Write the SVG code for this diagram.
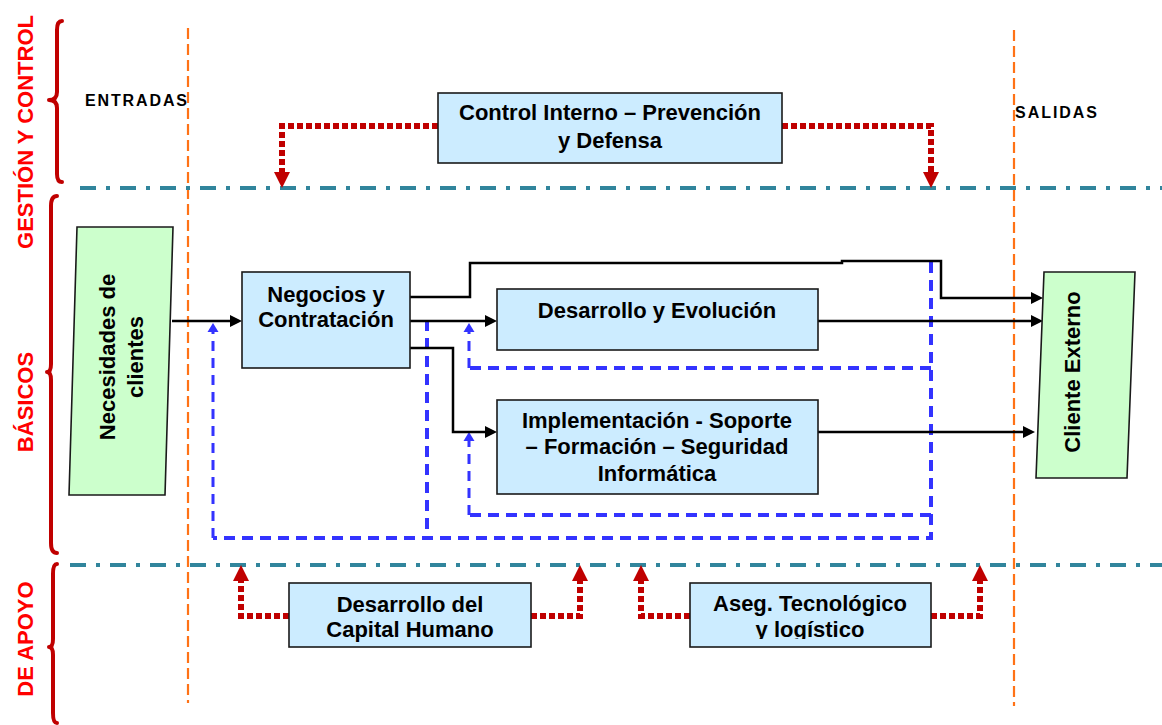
<svg xmlns="http://www.w3.org/2000/svg" width="1162" height="725" viewBox="0 0 1162 725">
<style>
.box{fill:#CCECFF;stroke:#1a1a1a;stroke-width:1.6}
.green{fill:#CCFFCC;stroke:#1a1a1a;stroke-width:1.6}
.t{font-family:"Liberation Sans",Arial,sans-serif;font-weight:bold;font-size:22px;fill:#000;text-anchor:middle}
.side{font-family:"Liberation Sans",Arial,sans-serif;font-weight:bold;font-size:22px;fill:#FF0000;text-anchor:middle}
.small{font-family:"Liberation Sans",Arial,sans-serif;font-weight:bold;font-size:16px;fill:#000}
.brace{fill:none;stroke:#C00000;stroke-width:4;stroke-linecap:round;stroke-linejoin:round}
.orange{fill:none;stroke:#FF7216;stroke-width:2.2;stroke-dasharray:11 5}
.teal{fill:none;stroke:#31859C;stroke-width:4;stroke-dasharray:16 10 4 10}
.blk{fill:none;stroke:#000;stroke-width:2.5}
.red{fill:none;stroke:#C00000;stroke-width:6;stroke-dasharray:6 3}
.blue{fill:none;stroke:#3333FF;stroke-width:4;stroke-dasharray:11 7}
.bluet{fill:none;stroke:#3333FF;stroke-width:3;stroke-dasharray:10 7}
</style>
<defs>
<marker id="ab" markerUnits="userSpaceOnUse" markerWidth="12" markerHeight="12" refX="0" refY="6" orient="auto" overflow="visible"><path d="M0,0 L12,6 L0,12 z" fill="#000"/></marker>
<marker id="ar" markerUnits="userSpaceOnUse" markerWidth="16" markerHeight="16" refX="0" refY="8" orient="auto" overflow="visible"><path d="M0,0 L16,8 L0,16 z" fill="#C00000"/></marker>
<marker id="au" markerUnits="userSpaceOnUse" markerWidth="9" markerHeight="11" refX="0" refY="5.5" orient="auto" overflow="visible"><path d="M0,0 L9,5.5 L0,11 z" fill="#3333FF"/></marker>
<clipPath id="clipAseg"><rect x="690" y="583" width="242" height="56"/></clipPath>
</defs>
<rect width="1162" height="725" fill="#fff"/>

<g id="frame">
<path class="brace" d="M62,21 Q57,21 57,30 L57,92 Q57,100 49,100 Q57,100 57,108 L57,174 Q57,182 62,182"/>
<path class="brace" d="M57,196 Q51,196 51,206 L51,364 Q51,372 47,372 Q51,372 51,380 L51,543 Q51,553 57,553"/>
<path class="brace" d="M57,564 Q53,564 53,574 L53,639 Q53,647 49,647 Q53,647 53,655 L53,713 Q53,723 57,723"/>
<text class="side" transform="translate(33,132) rotate(-90)">GESTIÓN Y CONTROL</text>
<text class="side" transform="translate(33,402) rotate(-90)">BÁSICOS</text>
<text class="side" transform="translate(33,639) rotate(-90)">DE APOYO</text>
<line class="orange" x1="188" y1="28" x2="188" y2="703"/>
<line class="orange" x1="1014" y1="30" x2="1014" y2="706"/>
<line class="teal" x1="80" y1="188" x2="1162" y2="188"/>
<line class="teal" x1="70" y1="565" x2="1162" y2="565"/>
<text class="small" x="85" y="106" textLength="102" lengthAdjust="spacing">ENTRADAS</text>
<text class="small" x="1015" y="118" textLength="82" lengthAdjust="spacing">SALIDAS</text>
</g>

<g id="connectors">
<path class="red" d="M438,126 H282 V172" marker-end="url(#ar)"/>
<path class="red" d="M782,126 H931 V172" marker-end="url(#ar)"/>
<path class="red" d="M289,616 H241 V581" marker-end="url(#ar)"/>
<path class="red" d="M531,616 H580 V581" marker-end="url(#ar)"/>
<path class="red" d="M690,616 H641 V581" marker-end="url(#ar)"/>
<path class="red" d="M931,616 H980 V581" marker-end="url(#ar)"/>

<path class="blue" d="M931,262 V538 H213"/>
<path class="bluet" d="M213,538 V332" marker-end="url(#au)"/>
<path class="blue" d="M427,320 V538"/>
<path class="blue" d="M931,368 H469"/>
<path class="bluet" d="M469,368 V332" marker-end="url(#au)"/>
<path class="blue" d="M931,515 H469"/>
<path class="bluet" d="M469,515 V441" marker-end="url(#au)"/>

<path class="blk" d="M172,321 H230" marker-end="url(#ab)"/>
<path class="blk" d="M410,321 H485" marker-end="url(#ab)"/>
<path class="blk" d="M410,348 H453 V432 H485" marker-end="url(#ab)"/>
<path class="blk" d="M410,297 H470 V263 H842 V261 H941 V298 H1031" marker-end="url(#ab)"/>
<path class="blk" d="M818,321 H1031" marker-end="url(#ab)"/>
<path class="blk" d="M818,432 H1023" marker-end="url(#ab)"/>
</g>

<g id="control-interno">
<rect class="box" x="438" y="93" width="344" height="70"/>
<text class="t" x="610" y="120">Control Interno – Prevención</text>
<text class="t" x="610" y="148">y Defensa</text>
</g>

<g id="necesidades">
<polygon class="green" points="77,227 173,227 165,495 69,495"/>
<text class="t" transform="translate(115,357) rotate(-90)">Necesidades de</text>
<text class="t" transform="translate(143,357) rotate(-90)">clientes</text>
</g>

<g id="negocios">
<rect class="box" x="242" y="272" width="168" height="96"/>
<text class="t" x="326" y="302">Negocios y</text>
<text class="t" x="326" y="327">Contratación</text>
</g>

<g id="desarrollo-evolucion">
<rect class="box" x="497" y="289" width="321" height="61"/>
<text class="t" x="657" y="318">Desarrollo y Evolución</text>
</g>

<g id="implementacion">
<rect class="box" x="497" y="400" width="321" height="94"/>
<text class="t" x="657" y="428">Implementación - Soporte</text>
<text class="t" x="657" y="454">– Formación – Seguridad</text>
<text class="t" x="657" y="481">Informática</text>
</g>

<g id="cliente-externo">
<polygon class="green" points="1044,272 1135,272 1127,478 1036,478"/>
<text class="t" transform="translate(1080,372) rotate(-90)">Cliente Externo</text>
</g>

<g id="capital-humano">
<rect class="box" x="289" y="583" width="242" height="64"/>
<text class="t" x="410" y="612">Desarrollo del</text>
<text class="t" x="410" y="637">Capital Humano</text>
</g>

<g id="aseg-tecnologico">
<rect class="box" x="690" y="583" width="241" height="64"/>
<text class="t" x="810" y="611">Aseg. Tecnológico</text>
<text class="t" x="810" y="637" clip-path="url(#clipAseg)">y logístico</text>
</g>
</svg>
